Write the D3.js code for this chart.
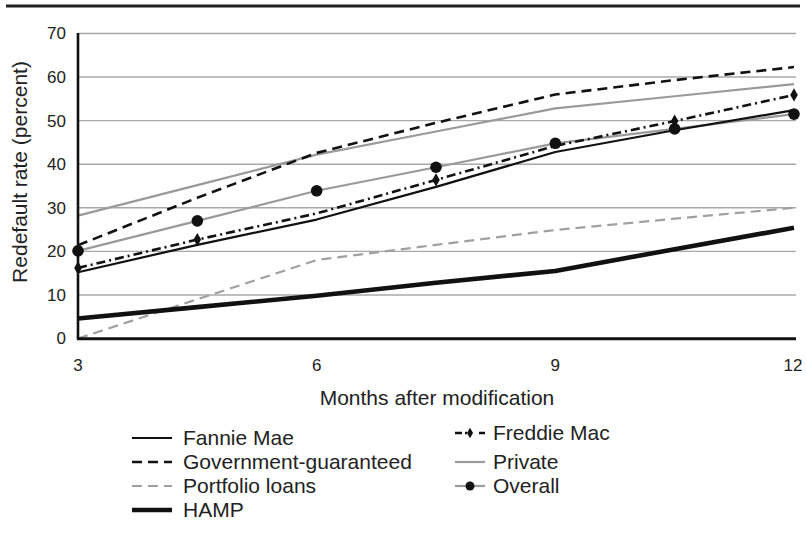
<!DOCTYPE html>
<html>
<head>
<meta charset="utf-8">
<script src="https://cdn.jsdelivr.net/npm/d3@7/dist/d3.min.js"></script>
<style>
  html, body { margin: 0; padding: 0; background: #fff; }
  svg { display: block; font-family: "Liberation Sans", Arial, sans-serif; }
</style>
</head>
<body>
<svg id="chart" width="806" height="534"></svg>
<script>
// ---- Data ----
const months = [3, 4.5, 6, 7.5, 9, 10.5, 12];
const xTicks = [3, 6, 9, 12];
const yTicks = [0, 10, 20, 30, 40, 50, 60, 70];

const fannieMae   = [15.2, 21.5, 27.3, 34.8, 42.8, 47.8, 52.4];
const freddieMac  = [16.2, 22.7, 28.7, 36.4, 44.2, 49.9, 55.9];
const govGuar     = [21.4, 32.3, 42.6, 49.5, 56.0, 59.3, 62.3];
const privateL    = [28.2, 35.2, 42.2, 47.5, 52.8, 55.6, 58.4];
const portfolio   = [0.0, 9.0, 18.0, 21.5, 24.9, 27.5, 30.0];
const overall     = [20.1, 27.0, 33.9, 39.3, 44.8, 48.1, 51.5];
const hamp        = [4.6, 7.2, 9.8, 12.8, 15.5, 20.5, 25.4];

const seriesNames = ["Fannie Mae", "Freddie Mac", "Government-guaranteed", "Private", "Portfolio loans", "Overall", "HAMP"];

// ---- Styles ----
const styles = {
  "Fannie Mae":            { color: "#111", width: 2.2, dash: null, marker: null },
  "Freddie Mac":           { color: "#111", width: 2.6, dash: "9,4,2,4", marker: "diamond" },
  "Government-guaranteed": { color: "#111", width: 2.6, dash: "10,6", marker: null },
  "Private":               { color: "#9a9a9a", width: 2.2, dash: null, marker: null },
  "Portfolio loans":       { color: "#a0a0a0", width: 2.2, dash: "10,6", marker: null },
  "Overall":               { color: "#9a9a9a", width: 2.2, dash: null, marker: "circle" },
  "HAMP":                  { color: "#111", width: 4.6, dash: null, marker: null }
};
const seriesData = {
  "Fannie Mae": fannieMae, "Freddie Mac": freddieMac, "Government-guaranteed": govGuar,
  "Private": privateL, "Portfolio loans": portfolio, "Overall": overall, "HAMP": hamp
};

const svg = d3.select("#chart");

const x = d3.scaleLinear().domain([3, 12]).range([78, 794]);
const y = d3.scaleLinear().domain([0, 70]).range([338.5, 33.5]);

// top rule
svg.append("line").attr("x1", 6).attr("x2", 800).attr("y1", 6).attr("y2", 6)
  .attr("stroke", "#222").attr("stroke-width", 3);

// gridlines
svg.append("g").selectAll("line").data(yTicks.filter(d => d > 0)).join("line")
  .attr("x1", x(3)).attr("x2", 796)
  .attr("y1", d => y(d)).attr("y2", d => y(d))
  .attr("stroke", "#a8a8a8").attr("stroke-width", 1.4);

// y tick labels
svg.append("g").selectAll("text").data(yTicks).join("text")
  .attr("x", 66).attr("y", d => y(d)).attr("dy", "0.35em")
  .attr("text-anchor", "end").attr("font-size", 17).attr("fill", "#222")
  .text(d => d);

// x tick labels
svg.append("g").selectAll("text").data(xTicks).join("text")
  .attr("x", d => d === 12 ? x(d) - 1 : x(d)).attr("y", 365).attr("dy", "0.35em")
  .attr("text-anchor", "middle").attr("font-size", 17).attr("fill", "#222")
  .text(d => d);

// axis titles
svg.append("text").attr("x", 437).attr("y", 398).attr("dy", "0.35em")
  .attr("text-anchor", "middle").attr("font-size", 21).attr("fill", "#222")
  .text("Months after modification");
svg.append("text").attr("transform", "translate(20,172) rotate(-90)").attr("dy", "0.35em")
  .attr("text-anchor", "middle").attr("font-size", 21).attr("fill", "#222")
  .text("Redefault rate (percent)");

// series lines
const line = d3.line().x((d, i) => x(months[i])).y(d => y(d));
const drawOrder = ["Private", "Overall", "Portfolio loans", "Government-guaranteed", "Fannie Mae", "Freddie Mac", "HAMP"];
drawOrder.forEach(name => {
  const s = styles[name];
  svg.append("path").datum(seriesData[name])
    .attr("d", line).attr("fill", "none")
    .attr("stroke", s.color).attr("stroke-width", s.width)
    .attr("stroke-dasharray", s.dash)
    .attr("stroke-linejoin", "round");
});

// markers
svg.append("g").selectAll("circle").data(overall).join("circle")
  .attr("cx", (d, i) => x(months[i])).attr("cy", d => y(d)).attr("r", 5.8).attr("fill", "#111");
const diamondIdx = [0, 1, 3, 5, 6];
svg.append("g").selectAll("path").data(diamondIdx).join("path")
  .attr("d", d3.symbol(d3.symbolDiamond, 50))
  .attr("transform", i => `translate(${x(months[i])},${y(freddieMac[i])})`)
  .attr("fill", "#111");

// axes lines
svg.append("line").attr("x1", x(3)).attr("x2", x(3)).attr("y1", 33).attr("y2", 339.5)
  .attr("stroke", "#111").attr("stroke-width", 2.6);
svg.append("line").attr("x1", x(3) - 1).attr("x2", 796).attr("y1", 338.8).attr("y2", 338.8)
  .attr("stroke", "#111").attr("stroke-width", 3);

// ---- Legend ----
const legendLeft = [
  { name: "Fannie Mae", y: 438 },
  { name: "Government-guaranteed", y: 462 },
  { name: "Portfolio loans", y: 486 },
  { name: "HAMP", y: 510 }
];
const legendRight = [
  { name: "Freddie Mac", y: 433 },
  { name: "Private", y: 462 },
  { name: "Overall", y: 486 }
];
function legendItem(g, item, x0, x1, tx) {
  const s = styles[item.name];
  g.append("line").attr("x1", x0).attr("x2", x1).attr("y1", item.y).attr("y2", item.y)
    .attr("stroke", s.color).attr("stroke-width", s.width)
    .attr("stroke-dasharray", item.name === "Freddie Mac" ? "7,3,2,12" : s.dash);
  if (s.marker === "circle") {
    g.append("circle").attr("cx", (x0 + x1) / 2).attr("cy", item.y).attr("r", 4.5).attr("fill", "#111");
  } else if (s.marker === "diamond") {
    g.append("path").attr("d", d3.symbol(d3.symbolDiamond, 32))
      .attr("transform", `translate(${(x0 + x1) / 2},${item.y})`).attr("fill", "#111");
  }
  g.append("text").attr("x", tx).attr("y", item.y).attr("dy", "0.35em")
    .attr("font-size", 21).attr("fill", "#222").text(item.name);
}
const lg = svg.append("g");
legendLeft.forEach(it => legendItem(lg, it, 132, 172, 183));
legendRight.forEach(it => legendItem(lg, it, 455, 485, 493));
</script>
</body>
</html>
